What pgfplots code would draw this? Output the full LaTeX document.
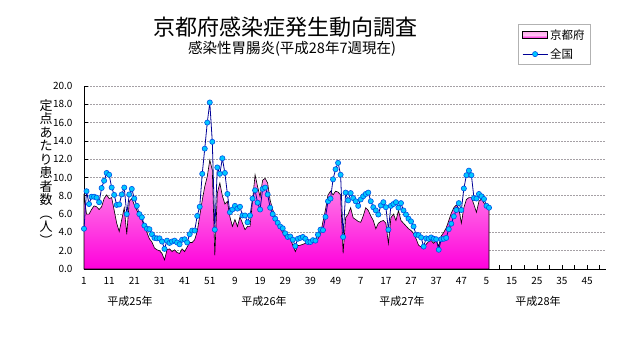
\documentclass[border=0pt]{standalone}
\usepackage{fontspec}
\setmainfont{Noto Sans CJK JP}
\usepackage{pgfplots}
\usepackage{pgfplotstable}
\pgfplotsset{compat=1.18}

\definecolor{natline}{RGB}{0,0,150}
\definecolor{natfill}{RGB}{0,200,255}
\definecolor{natedge}{RGB}{0,80,230}
\definecolor{kyotop}{RGB}{255,165,235}
\definecolor{kyobot}{RGB}{255,0,220}
\definecolor{gridc}{RGB}{165,160,165}

\pgfplotstableread{
w k n
1 8.2 4.4
2 6.0 8.5
3 6.0 7.1
4 6.5 7.9
5 6.9 7.9
6 6.8 7.8
7 6.5 7.3
8 6.8 8.85
9 7.7 9.65
10 8.1 10.5
11 7.7 10.3
12 7.8 8.9
13 6.4 8.1
14 5.0 7.0
15 4.1 7.05
16 5.4 8.15
17 6.7 8.9
18 3.8 6.0
19 7.4 8.15
20 7.7 8.75
21 7.0 7.7
22 6.4 6.9
23 5.9 6.0
24 5.4 5.65
25 4.7 4.75
26 4.0 4.4
27 3.3 4.35
28 2.95 3.8
29 2.3 3.4
30 2.1 3.35
31 2.0 3.35
32 1.7 3.0
33 1.0 2.2
34 2.1 3.1
35 2.2 2.85
36 1.9 3.0
37 2.1 3.1
38 1.8 2.9
39 1.7 2.7
40 2.2 3.2
41 1.9 3.25
42 2.4 2.9
43 2.9 3.8
44 2.9 4.2
45 3.2 4.2
46 4.1 5.8
47 5.8 6.8
48 7.5 10.4
49 9.0 13.15
50 10.1 16.0
51 11.9 18.2
52 10.8 13.9
53 1.5 4.3
54 8.3 11.1
55 9.4 10.4
56 8.0 12.1
57 7.1 10.5
58 7.4 8.2
59 5.7 6.2
60 4.65 6.5
61 5.4 6.9
62 4.65 6.6
63 5.7 6.8
64 5.0 5.85
65 4.3 5.85
66 4.65 5.1
67 4.65 5.85
68 7.5 7.7
69 10.3 8.6
70 9.0 7.25
71 7.9 6.5
72 9.7 8.75
73 9.9 8.9
74 9.4 8.15
75 7.5 6.7
76 6.5 6.0
77 5.8 5.5
78 4.9 5.05
79 4.4 4.65
80 4.0 4.45
81 3.5 3.9
82 3.4 3.5
83 3.3 3.55
84 2.6 3.2
85 1.9 2.5
86 2.55 3.3
87 2.6 3.4
88 2.7 3.5
89 2.8 3.3
90 2.9 2.95
91 2.9 2.95
92 2.9 3.15
93 3.1 3.1
94 3.3 3.75
95 3.8 4.3
96 5.2 4.25
97 6.5 5.7
98 8.1 7.4
99 8.5 7.7
100 8.1 9.8
101 8.5 10.9
102 8.4 11.6
103 8.1 10.3
104 1.7 3.5
105 5.6 8.35
106 6.0 7.5
107 6.7 8.3
108 5.6 7.75
109 5.4 7.4
110 5.2 6.9
111 5.1 7.6
112 5.8 7.95
113 6.7 8.2
114 6.4 8.35
115 5.8 7.4
116 5.3 6.75
117 4.4 6.4
118 5.0 5.95
119 5.2 6.95
120 5.3 7.3
121 5.0 6.75
122 2.8 4.3
123 5.6 6.9
124 6.0 7.1
125 5.3 7.3
126 6.4 6.7
127 5.3 7.2
128 5.0 6.4
129 4.7 5.95
130 4.4 5.5
131 4.2 5.2
132 3.9 4.65
133 3.3 3.75
134 2.6 3.7
135 2.4 3.45
136 2.2 2.45
137 2.7 3.35
138 3.0 3.3
139 3.1 3.45
140 2.8 3.3
141 3.1 3.25
142 2.5 2.1
143 3.6 3.25
144 4.0 3.3
145 4.5 3.4
146 5.3 4.35
147 6.1 4.95
148 6.7 5.75
149 7.0 6.45
150 6.6 7.2
151 5.0 6.45
152 6.7 8.8
153 7.6 10.25
154 7.8 10.75
155 7.8 10.25
156 7.05 7.75
157 6.2 7.7
158 7.4 8.2
159 7.65 7.95
160 7.2 7.65
161 6.7 6.9
162 6.5 6.7
}\data

\begin{document}
\begin{tikzpicture}
\path[use as bounding box] (0,0) rectangle (631pt,347pt);
\begin{axis}[
  at={(84pt,78pt)}, anchor=south west,
  scale only axis, width=522pt, height=183pt,
  xmin=1, xmax=208.5, ymin=0, ymax=20,
  clip=false,
  axis lines=left,
  axis line style={-, black, line width=0.8pt},
  xtick={1,11,...,201},
  xticklabels={1,11,21,31,41,51,9,19,29,39,49,7,17,27,37,47,5,15,25,35,45},
  minor xtick={6,16,...,206},
  ytick={0,2,...,20},
  ymajorgrids,
  major grid style={gridc, dash pattern=on 2pt off 1pt, line width=0.6pt},
  tick align=inside,
  major tick length=4pt, minor tick length=4pt,
  tick style={black, line width=0.6pt},
  /pgf/number format/assume math mode=true,
  yticklabel={\pgfmathprintnumber[fixed,fixed zerofill,precision=1]{\tick}},
  ticklabel style={font=\fontsize{10}{12}\selectfont},
  yticklabel style={xshift=-8pt},
  xticklabel style={yshift=-5pt},
  legend style={at={(0.8314,1.338)}, anchor=north west, draw=gray!60,
    font=\fontsize{11.5}{13}\selectfont, inner xsep=4pt, inner ysep=3pt, row sep=4pt,
    cells={anchor=west}},
]
\addplot[draw=black, line width=0.6pt, top color=kyotop, bottom color=kyobot,
  legend image code/.code={\draw[black, line width=0.5pt, top color=kyotop, bottom color=kyobot, middle color=kyotop!60] (0pt,-3.5pt) rectangle (25pt,3.5pt);}]
  table[x=w, y=k] {\data} \closedcycle;
\addlegendentry{京都府}
\addplot[natline, line width=0.8pt, mark=*, mark size=2.6pt,
  mark options={draw=natedge, fill=natfill, line width=0.6pt},
  legend image code/.code={\draw[natline, line width=0.8pt] (0pt,0pt) -- (25pt,0pt); \draw[natedge, fill=natfill, line width=0.6pt] (12.5pt,0pt) circle (2.6pt);}]
  table[x=w, y=n] {\data};
\addlegendentry{全国}
\end{axis}
\node at (285pt,320pt) {\fontsize{22}{24}\selectfont 京都府感染症発生動向調査};
\node at (292pt,298pt) {\fontsize{14.5}{16}\selectfont 感染性胃腸炎(平成28年7週現在)};
\node[align=center, font=\fontsize{13}{13.5}\selectfont] at (46pt,174.5pt) {定\\点\\あ\\た\\り\\患\\者\\数\\︵\\人\\︶};
\node[font=\fontsize{11}{13}\selectfont] at (130pt,46pt) {平成25年};
\node[font=\fontsize{11}{13}\selectfont] at (264pt,46pt) {平成26年};
\node[font=\fontsize{11}{13}\selectfont] at (402pt,46pt) {平成27年};
\node[font=\fontsize{11}{13}\selectfont] at (538pt,46pt) {平成28年};
\end{tikzpicture}
\end{document}
